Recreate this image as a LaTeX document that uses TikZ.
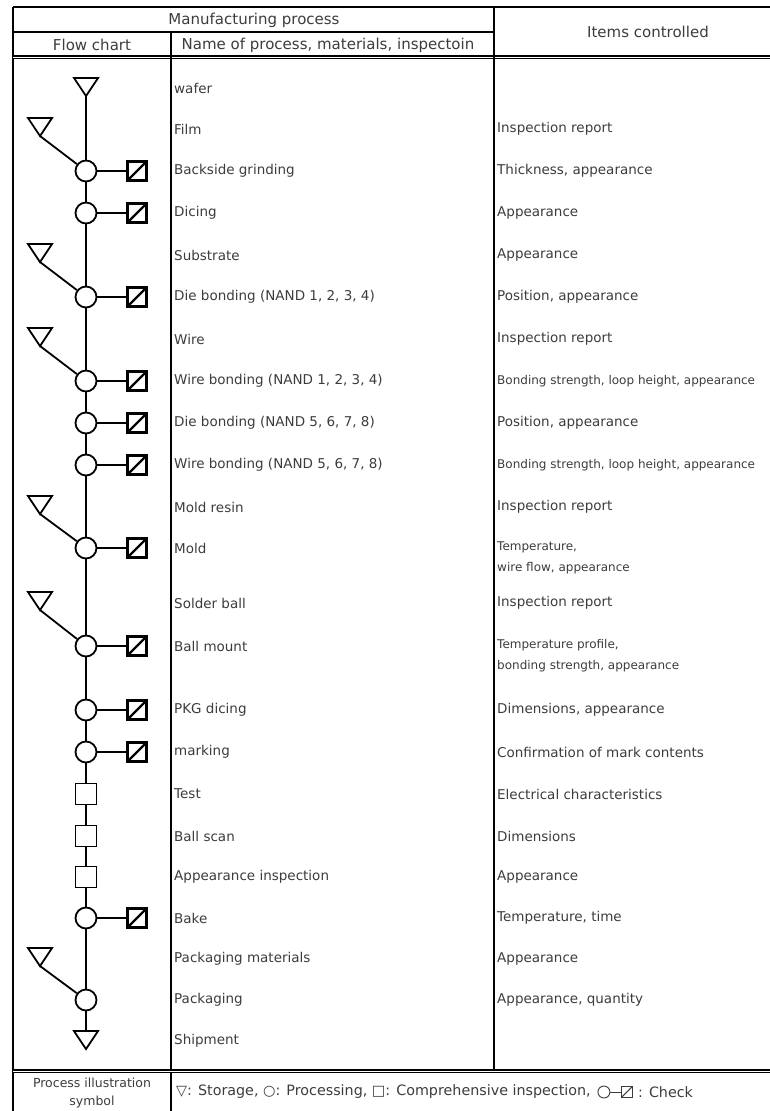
\documentclass[tikz,border=0pt]{standalone}
\usepackage{fontspec}
\setmainfont{DejaVu Sans}
\usetikzlibrary{calc}
\definecolor{ink}{RGB}{60,60,60}
\begin{document}
\begin{tikzpicture}[x=1pt,y=-1pt,
  rule/.style={line width=1.6pt},
  dbl/.style={double, double distance=0.9pt, line width=1.1pt},
  flow/.style={line width=1.8pt},
  proc/.style={circle, draw, line width=1.8pt, minimum size=21pt, inner sep=0pt},
  chk/.style={rectangle, draw, line width=2.2pt, minimum size=19pt, inner sep=0pt,
    path picture={\draw[line width=2.2pt] (path picture bounding box.south west) -- (path picture bounding box.north east);}},
  insp/.style={rectangle, draw, line width=1.8pt, minimum size=21pt, inner sep=0pt},
  storage/.pic={
    \draw[line width=1.8pt, line join=miter] (-12,-10) -- (12,-10) -- (0,8) -- cycle;
    \coordinate (-apex) at (0,8);
    \coordinate (-top) at (0,-10);},
  hdr/.style={inner sep=0pt, font=\fontsize{15}{17}\selectfont, text=ink},
  lbl/.style={anchor=west, inner sep=0pt, font=\fontsize{13.5}{16}\selectfont, text=ink},
  sml/.style={anchor=west, inner sep=0pt, font=\fontsize{12}{14}\selectfont, text=ink},
  key/.style={inner sep=0pt, font=\fontsize{12.5}{14}\selectfont, text=ink},
  keytext/.style={inner sep=0pt, anchor=west, font=\fontsize{14.3}{16}\selectfont, text=ink},
]
\useasboundingbox (0,0) rectangle (769,1111);

% table frame
\draw[rule] (13,7) -- (800,7);
\draw[rule] (13,7) -- (13,1120);
\draw[rule] (13,32) -- (494,32);
\draw[dbl] (13,57) -- (800,57);
\draw[rule] (171,32) -- (171,1120);
\draw[rule] (494,7) -- (494,1071);
\draw[dbl] (13,1071) -- (800,1071);

% headings
\node[hdr] (h1) at (254,20) {Manufacturing process};
\node[hdr] (h2) at (92,45) {Flow chart};
\node[hdr] (h3) at (328,45) {Name of process, materials, inspectoin};
\node[hdr] (h4) at (648,32) {Items controlled};

% flow chart symbols
\pic (w0) at (86,88) {storage};
\pic (m1) at (40,128) {storage};
\node[proc] (c1) at (86,171) {};
\node[chk] (k1) at (137,171) {};
\node[proc] (c2) at (86,213) {};
\node[chk] (k2) at (137,213) {};
\pic (m2) at (40,254) {storage};
\node[proc] (c3) at (86,297) {};
\node[chk] (k3) at (137,297) {};
\pic (m3) at (40,338) {storage};
\node[proc] (c4) at (86,381) {};
\node[chk] (k4) at (137,381) {};
\node[proc] (c5) at (86,423) {};
\node[chk] (k5) at (137,423) {};
\node[proc] (c6) at (86,465) {};
\node[chk] (k6) at (137,465) {};
\pic (m4) at (40,506) {storage};
\node[proc] (c7) at (86,548) {};
\node[chk] (k7) at (137,548) {};
\pic (m5) at (40,602) {storage};
\node[proc] (c8) at (86,646) {};
\node[chk] (k8) at (137,646) {};
\node[proc] (c9) at (86,710) {};
\node[chk] (k9) at (137,710) {};
\node[proc] (c10) at (86,752) {};
\node[chk] (k10) at (137,752) {};
\node[insp] (s1) at (86,794) {};
\node[insp] (s2) at (86,836) {};
\node[insp] (s3) at (86,877) {};
\node[proc] (c11) at (86,918) {};
\node[chk] (k11) at (137,918) {};
\pic (m6) at (40,958) {storage};
\node[proc] (c12) at (86,1000) {};
\pic (w1) at (86,1041) {storage};

% main flow line
\draw[flow] (w0-apex) -- (c1);
\draw[flow] (c1) -- (c2);
\draw[flow] (c2) -- (c3);
\draw[flow] (c3) -- (c4);
\draw[flow] (c4) -- (c5);
\draw[flow] (c5) -- (c6);
\draw[flow] (c6) -- (c7);
\draw[flow] (c7) -- (c8);
\draw[flow] (c8) -- (c9);
\draw[flow] (c9) -- (c10);
\draw[flow] (c10) -- (s1);
\draw[flow] (s1) -- (s2);
\draw[flow] (s2) -- (s3);
\draw[flow] (s3) -- (c11);
\draw[flow] (c11) -- (c12);
\draw[flow] (c12) -- (w1-top);

% materials joining the flow
\draw[flow] (m1-apex) -- (c1);
\draw[flow] (m2-apex) -- (c3);
\draw[flow] (m3-apex) -- (c4);
\draw[flow] (m4-apex) -- (c7);
\draw[flow] (m5-apex) -- (c8);
\draw[flow] (m6-apex) -- (c12);

% checks
\draw[flow] (c1) -- (k1);
\draw[flow] (c2) -- (k2);
\draw[flow] (c3) -- (k3);
\draw[flow] (c4) -- (k4);
\draw[flow] (c5) -- (k5);
\draw[flow] (c6) -- (k6);
\draw[flow] (c7) -- (k7);
\draw[flow] (c8) -- (k8);
\draw[flow] (c9) -- (k9);
\draw[flow] (c10) -- (k10);
\draw[flow] (c11) -- (k11);

% process names
\node[lbl] (n1) at (174,88) {wafer};
\node[lbl] (n2) at (174,129) {Film};
\node[lbl] (n3) at (174,171) {Backside grinding};
\node[lbl] (n4) at (174,213) {Dicing};
\node[lbl] (n5) at (174,255) {Substrate};
\node[lbl] (n6) at (174,297) {Die bonding (NAND 1, 2, 3, 4)};
\node[lbl] (n7) at (174,339) {Wire};
\node[lbl] (n8) at (174,381) {Wire bonding (NAND 1, 2, 3, 4)};
\node[lbl] (n9) at (174,423) {Die bonding (NAND 5, 6, 7, 8)};
\node[lbl] (n10) at (174,465) {Wire bonding (NAND 5, 6, 7, 8)};
\node[lbl] (n11) at (174,507) {Mold resin};
\node[lbl] (n12) at (174,548) {Mold};
\node[lbl] (n13) at (174,603) {Solder ball};
\node[lbl] (n14) at (174,646) {Ball mount};
\node[lbl] (n15) at (174,710) {PKG dicing};
\node[lbl] (n16) at (174,752) {marking};
\node[lbl] (n17) at (174,794) {Test};
\node[lbl] (n18) at (174,836) {Ball scan};
\node[lbl] (n19) at (174,877) {Appearance inspection};
\node[lbl] (n20) at (174,918) {Bake};
\node[lbl] (n21) at (174,959) {Packaging materials};
\node[lbl] (n22) at (174,1000) {Packaging};
\node[lbl] (n23) at (174,1041) {Shipment};

% items controlled
\node[lbl] (i2) at (497,129) {Inspection report};
\node[lbl] (i3) at (497,171) {Thickness, appearance};
\node[lbl] (i4) at (497,213) {Appearance};
\node[lbl] (i5) at (497,255) {Appearance};
\node[lbl] (i6) at (497,297) {Position, appearance};
\node[lbl] (i7) at (497,339) {Inspection report};
\node[sml] (i8) at (497,381) {Bonding strength, loop height, appearance};
\node[lbl] (i9) at (497,423) {Position, appearance};
\node[sml] (i10) at (497,465) {Bonding strength, loop height, appearance};
\node[lbl] (i11) at (497,507) {Inspection report};
\node[sml] (i12a) at (497,547) {Temperature,};
\node[sml] (i12b) at (497,568) {wire flow, appearance};
\node[lbl] (i13) at (497,603) {Inspection report};
\node[sml] (i14a) at (497,645) {Temperature profile,};
\node[sml] (i14b) at (497,666) {bonding strength, appearance};
\node[lbl] (i15) at (497,710) {Dimensions, appearance};
\node[lbl] (i16) at (497,752) {Confirmation of mark contents};
\node[lbl] (i17) at (497,794) {Electrical characteristics};
\node[lbl] (i18) at (497,836) {Dimensions};
\node[lbl] (i19) at (497,877) {Appearance};
\node[lbl] (i20) at (497,918) {Temperature, time};
\node[lbl] (i21) at (497,959) {Appearance};
\node[lbl] (i22) at (497,1000) {Appearance, quantity};

% symbol key
\node[key] (p1) at (92,1083) {Process illustration};
\node[key] (p2) at (92,1102) {symbol};
\node[keytext] (lg) at (176,1092) {▽: Storage, ○: Processing, □: Comprehensive inspection,};
\node[circle, draw=ink, line width=0.9pt, minimum size=12pt, inner sep=0pt] (lc) at ($(lg.east)+(13,0)$) {};
\node[rectangle, draw=ink, line width=1pt, minimum size=11pt, inner sep=0pt,
  path picture={\draw[ink, line width=1pt] (path picture bounding box.south west) -- (path picture bounding box.north east);}] (lk) at ($(lc)+(23,0)$) {};
\draw[ink, line width=1pt] (lc) -- (lk);
\node[keytext] (lt) at ($(lk.east)+(5,0)$) {: Check};
\end{tikzpicture}
\end{document}
